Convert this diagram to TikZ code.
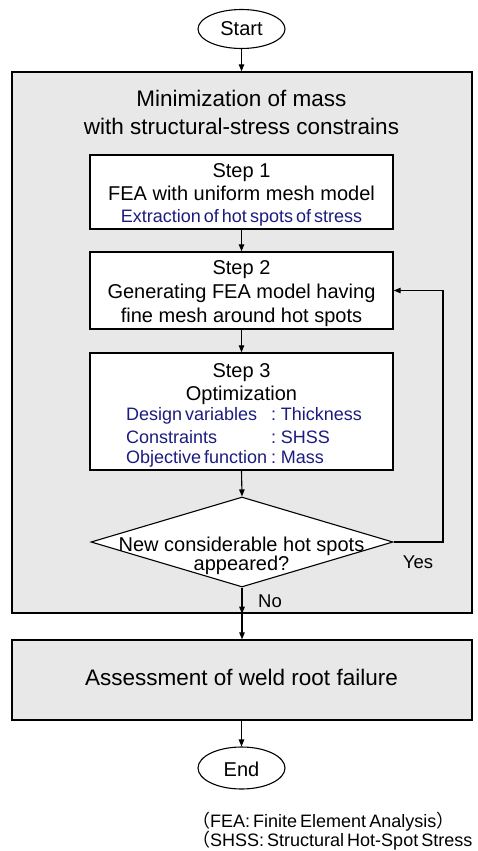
\documentclass[tikz,border=0pt]{standalone}
\usepackage{fontspec}
\setmainfont{Liberation Sans}
\newfontfamily\cjkfont{Noto Sans CJK JP}
\newfontfamily\tightfont[WordSpace=0.6]{Liberation Sans}
\usetikzlibrary{shapes.geometric,arrows.meta}

\definecolor{panelgray}{RGB}{232,232,232}
\definecolor{noteblue}{RGB}{28,28,128}

\tikzset{
  flow/.style={line width=1.1pt, -{Triangle[length=7pt,width=5.5pt]}},
  terminal/.style={draw, line width=1.1pt, ellipse, minimum width=87pt,
    minimum height=39pt, inner sep=0pt},
  panel/.style={draw, line width=1.4pt, fill=panelgray, inner sep=0pt},
  stepbox/.style={draw, line width=1.4pt, fill=white, inner sep=0pt},
  decision/.style={draw, line width=1.1pt, fill=white, diamond, inner sep=0pt},
  txt/.style={anchor=base, inner sep=0pt, font=\fontsize{20}{24}\selectfont},
  bigtxt/.style={anchor=base, inner sep=0pt, font=\fontsize{22.5}{26}\selectfont},
  bluetxt/.style={anchor=base, inner sep=0pt, text=noteblue,
    font=\tightfont\fontsize{18}{22}\selectfont},
  bluecol/.style={bluetxt, anchor=base west},
  notetxt/.style={anchor=base west, inner sep=0pt,
    font=\tightfont\fontsize{18}{22}\selectfont},
  branchtxt/.style={anchor=base, inner sep=0pt, font=\fontsize{18.5}{22}\selectfont},
}

\begin{document}
\begin{tikzpicture}[x=1pt, y=-1pt]
  \useasboundingbox (0,0) rectangle (478,851);

  % terminals and outer panels
  \node[terminal] (start) at (241.5,29) {};
  \node[txt] (startlbl) at (241.5,36) {Start};

  \node[panel, minimum width=460pt, minimum height=541pt] (outer) at (242,342.5) {};
  \node[bigtxt] (title1) at (241.5,106) {Minimization of mass};
  \node[bigtxt] (title2) at (241.5,134) {with structural-stress constrains};

  % step 1
  \node[stepbox, minimum width=303pt, minimum height=74pt] (s1) at (241.5,192) {};
  \node[txt] (s1a) at (241.5,177) {Step 1};
  \node[txt] (s1b) at (241.5,200) {FEA with uniform mesh model};
  \node[bluetxt] (s1c) at (241.5,222.5) {Extraction of hot spots of stress};

  % step 2
  \node[stepbox, minimum width=303pt, minimum height=77pt] (s2) at (241.5,290.5) {};
  \node[txt] (s2a) at (241.5,274) {Step 2};
  \node[txt] (s2b) at (241.5,298) {Generating FEA model having};
  \node[txt] (s2c) at (241.5,322) {fine mesh around hot spots};

  % step 3
  \node[stepbox, minimum width=303pt, minimum height=117pt] (s3) at (241.5,411.5) {};
  \node[txt] (s3a) at (241.5,377) {Step 3};
  \node[txt] (s3b) at (241.5,400) {Optimization};
  \node[bluecol] (dv) at (126,420) {Design variables};
  \node[bluecol] (dvv) at (271,420) {: Thickness};
  \node[bluecol] (cs) at (126,443) {Constraints};
  \node[bluecol] (csv) at (271,443) {: SHSS};
  \node[bluecol] (of) at (126,463.5) {Objective function};
  \node[bluecol] (ofv) at (271,463.5) {: Mass};

  % decision
  \node[decision, minimum width=302pt, minimum height=90pt] (dec) at (242,542) {};
  \node[txt] (deca) at (241.5,551) {New considerable hot spots};
  \node[txt] (decb) at (241.5,570) {appeared?};

  % final assessment and end
  \node[panel, minimum width=460pt, minimum height=80pt] (assess) at (242,680) {};
  \node[bigtxt] (assesslbl) at (241.5,685) {Assessment of weld root failure};

  \node[terminal, minimum height=42pt] (end) at (241.5,768) {};
  \node[txt] (endlbl) at (241.5,776) {End};

  % connectors
  \draw[flow] (start.south) -- (start.south |- outer.north);
  \draw[flow] (s1.south) -- (s2.north);
  \draw[flow] (s2.south) -- (s3.north);
  \draw[flow] (s3.south) -- (dec.north);
  \draw[flow] (dec.south) -- (dec.south |- outer.south);
  \draw[flow] (dec.south |- outer.south) -- (dec.south |- assess.north);
  \draw[flow] (assess.south -| end.north) -- (end.north);

  \coordinate (loopc) at (443,290.5);
  \draw[flow] (dec.east) -| (loopc) -- (s2.east);

  \node[branchtxt] (yes) at (418,568) {Yes};
  \node[branchtxt] (no) at (270,607) {No};

  % abbreviations
  \node[notetxt] (note1) at (192,827) {{\cjkfont （}FEA: Finite Element Analysis{\cjkfont ）}};
  \node[notetxt] (note2) at (192,846.5) {{\cjkfont （}SHSS: Structural Hot-Spot Stress};
\end{tikzpicture}
\end{document}
